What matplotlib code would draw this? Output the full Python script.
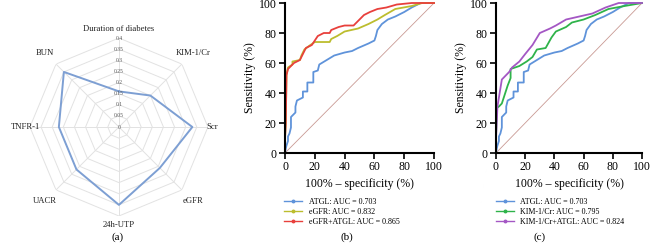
import numpy as np
import matplotlib
matplotlib.use("Agg")
import matplotlib.pyplot as plt
from matplotlib.lines import Line2D

plt.rcParams['font.family'] = ['Liberation Serif', 'DejaVu Serif']

# radar data (a)
radar_labels = ["Duration of diabetes", "KIM-1/Cr", "Scr", "eGFR", "24h-UTP", "UACR", "TNFR-1", "BUN"]
radar_values = [0.16, 0.20, 0.33, 0.26, 0.35, 0.27, 0.27, 0.35]
radar_levels = [0, 0.05, 0.1, 0.15, 0.2, 0.25, 0.3, 0.35, 0.4]
radar_ticklabels = ["0", "0.05", "0.1", "0.15", "0.2", "0.25", "0.3", "0.35", "0.4"]

# ROC curves (x = 100% - specificity, y = sensitivity)
atgl_x = [0, 0.5, 1, 2, 2, 3, 4, 4, 7, 7, 8, 12, 12, 15, 15, 19, 19, 22, 23, 28, 33, 40, 45, 49, 56, 60, 61, 62, 65, 69, 74, 80, 85, 91, 100]
atgl_y = [0, 3, 5, 8, 11, 13, 17, 24, 27, 31, 35, 37, 41, 41, 47, 47, 54, 55, 59, 62, 65, 67, 68, 70, 73, 75, 78, 82, 86, 89, 91, 94, 97, 100, 100]

egfr_x = [0, 0, 0.5, 1, 2, 5, 5, 10, 11, 13, 17, 20, 30, 31, 35, 40, 49, 56, 62, 67, 74, 85, 92, 100]
egfr_y = [0, 10, 20, 52, 57, 59, 61, 62, 65, 69, 72, 74, 74, 76, 78, 81, 83, 86, 89, 92, 96, 98, 100, 100]

combo_b_x = [0, 0, 0.5, 1, 2, 6, 10, 12, 14, 18, 20, 22, 26, 30, 31, 36, 40, 46, 48, 50, 53, 57, 62, 68, 75, 85, 100]
combo_b_y = [0, 10, 20, 52, 56, 60, 62, 66, 70, 72, 75, 78, 80, 80, 82, 84, 85, 85, 87, 89, 92, 94, 96, 97, 99, 100, 100]

kim_x = [0, 0, 0.5, 2, 4, 6, 8, 10, 10, 16, 21, 25, 28, 34, 38, 41, 48, 52, 60, 68, 77, 88, 100]
kim_y = [0, 10, 30, 31, 33, 39, 45, 50, 56, 58, 61, 64, 69, 70, 77, 81, 84, 87, 89, 92, 96, 98, 100]

combo_c_x = [0, 0, 1, 2, 4, 6, 9, 11, 16, 20, 25, 30, 37, 41, 48, 57, 66, 75, 84, 100]
combo_c_y = [0, 10, 31, 37, 49, 51, 54, 57, 61, 66, 72, 80, 83, 85, 89, 91, 93, 97, 100, 100]

c_atgl = '#5f93da'
c_egfr = '#bcbd2e'
c_combo_b = '#e8403c'
c_kim = '#2fb34a'
c_combo_c = '#a457c4'

fig = plt.figure(figsize=(6.51, 2.49), dpi=100)

# ---- (a) radar ----
ax = fig.add_axes([0.046, 0.1325, 0.2734, 0.7149], projection='polar')
ax.set_theta_zero_location('N')
ax.set_theta_direction(-1)
ang = np.linspace(0, 2 * np.pi, len(radar_labels), endpoint=False)
ang_c = np.append(ang, ang[0])
for lv in radar_levels[1:]:
    ax.plot(ang_c, [lv] * len(ang_c), color='#e2e2e2', lw=0.7)
for a in ang:
    ax.plot([a, a], [0, 0.4], color='#e2e2e2', lw=0.7)
vals = radar_values + radar_values[:1]
ax.plot(ang_c, vals, color='#7d9fd3', lw=1.4)
for lv, t in zip(radar_levels, radar_ticklabels):
    ax.text(0, lv, t, fontsize=4, color='#555555', ha='center', va='center')
label_r = [0.44, 0.47, 0.42, 0.47, 0.44, 0.47, 0.42, 0.47]
for a, lab, r in zip(ang, radar_labels, label_r):
    ax.text(a, r, lab, fontsize=6.2, ha='center', va='center', color='#222222')
ax.set_ylim(0, 0.4)
ax.set_xticks([])
ax.set_yticks([])
ax.grid(False)
ax.spines['polar'].set_visible(False)
ax.patch.set_alpha(0)
fig.text(0.181, 0.048, "(a)", fontsize=8, ha='center', va='center')


def roc_axes(rect, curves, legend_x, tag, tag_x):
    ax = fig.add_axes(rect)
    ax.plot([0, 100], [0, 100], color='#c99a94', lw=0.6)
    for x, y, col, lab in curves:
        ax.plot(x, y, color=col, lw=1.3, clip_on=False)
    ax.set_xlim(0, 100)
    ax.set_ylim(0, 100)
    ax.set_xticks(range(0, 101, 20))
    ax.set_yticks(range(0, 101, 20))
    ax.tick_params(labelsize=8.5, width=1.2, length=4, pad=2)
    for s in ['top', 'right']:
        ax.spines[s].set_visible(False)
    for s in ['left', 'bottom']:
        ax.spines[s].set_linewidth(1.5)
    ax.set_xlabel("100% \u2013 specificity (%)", fontsize=8.5, labelpad=3)
    ax.set_ylabel("Sensitivity (%)", fontsize=8.5, labelpad=2)
    handles = [Line2D([], [], color=col, lw=1, marker='o', markersize=1.8) for _, _, col, _ in curves]
    labels = [lab for _, _, _, lab in curves]
    fig.legend(handles, labels, loc='upper left', bbox_to_anchor=(legend_x, 0.205),
               fontsize=5.8, frameon=False, handlelength=2.2, handletextpad=0.8,
               labelspacing=0.25, borderaxespad=0, borderpad=0)
    fig.text(tag_x, 0.048, tag, fontsize=8, ha='center', va='center')
    return ax


roc_axes([0.4378, 0.3855, 0.2289, 0.6024],
         [(atgl_x, atgl_y, c_atgl, "ATGL: AUC = 0.703"),
          (egfr_x, egfr_y, c_egfr, "eGFR: AUC = 0.832"),
          (combo_b_x, combo_b_y, c_combo_b, "eGFR+ATGL: AUC = 0.865")],
         0.437, "(b)", 0.533)

roc_axes([0.7619, 0.3855, 0.2243, 0.6024],
         [(atgl_x, atgl_y, c_atgl, "ATGL: AUC = 0.703"),
          (kim_x, kim_y, c_kim, "KIM-1/Cr: AUC = 0.795"),
          (combo_c_x, combo_c_y, c_combo_c, "KIM-1/Cr+ATGL: AUC = 0.824")],
         0.762, "(c)", 0.829)

fig.savefig("out.png", dpi=100)
